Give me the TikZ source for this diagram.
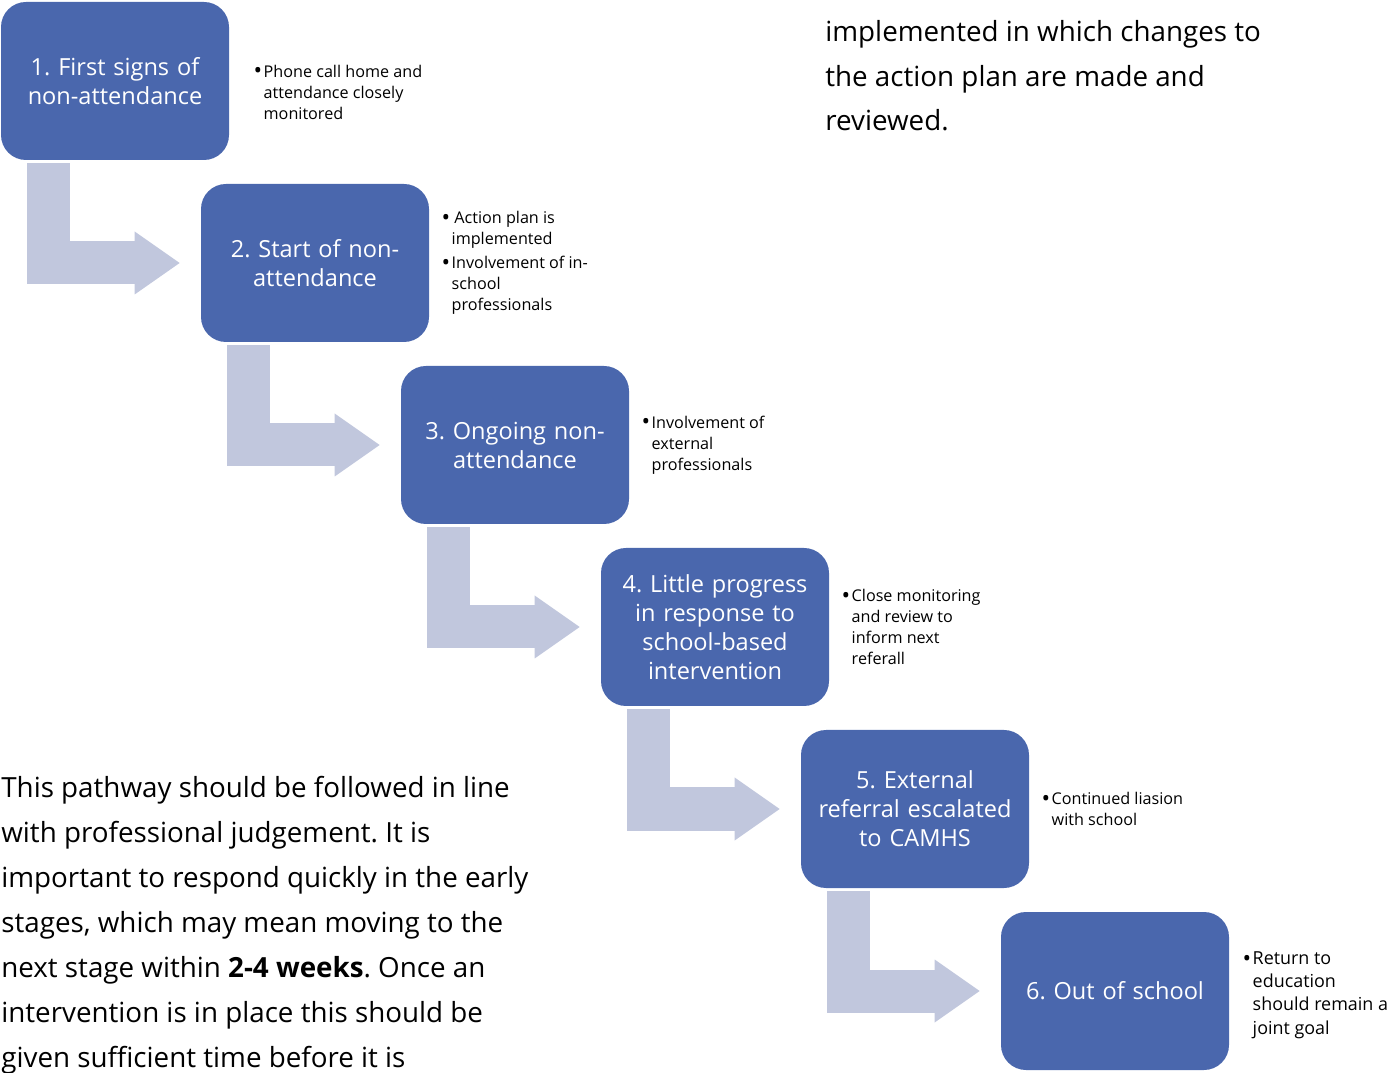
\documentclass[tikz,border=0pt]{standalone}
\usepackage{fontspec}
\setmainfont{Open Sans}
\frenchspacing
\usetikzlibrary{arrows.meta, positioning}
\definecolor{stageBlue}{RGB}{74,103,173}
\definecolor{stepGray}{RGB}{193,199,221}
\newcommand{\bul}{\makebox[0.2cm][l]{\raisebox{-0.2ex}{\fontsize{13}{13}\selectfont\textbullet}}}
\newcommand{\ind}{\hspace*{0.2cm}}

\begin{document}
\begin{tikzpicture}[
    stage/.style={rounded corners=0.5cm, fill=stageBlue, minimum width=4.56cm, minimum height=3.16cm, text width=4.4cm, inner sep=0pt, font=\fontsize{13.4}{16.5}\selectfont, text=white, align=center},
    note/.style={inner sep=0pt, align=left, font=\fontsize{9.2}{11.95}\selectfont},
    stepArrow/.style={-{Triangle[length=0.9cm, width=1.26cm, line width=0pt]}, line width=0.86cm, color=stepGray},
    para/.style={anchor=base west, inner sep=0pt, align=left, font=\fontsize{15.8}{25.6}\selectfont}
]
\useasboundingbox (0,0) rectangle (27.88,-21.46);

\node[stage] (b1) at (2.30,-1.62)  {1. First signs of\\non-attendance};
\node[stage] (b2) at (6.30,-5.26)  {2. Start of non-\\attendance};
\node[stage] (b3) at (10.30,-8.90) {3. Ongoing non-\\attendance};
\node[stage] (b4) at (14.30,-12.54) {4. Little progress\\in response to\\school-based\\intervention};
\node[stage] (b5) at (18.30,-16.18) {5. External\\referral escalated\\to CAMHS};
\node[stage] (b6) at (22.30,-19.82) {6. Out of school};

\node[note, right=0.48cm of b1, yshift=-0.22cm] (n1) {\bul Phone call home and\\\ind attendance closely\\\ind monitored};
\node[note, right=0.24cm of b2] (n2) {\bul\,Action plan is\\\ind implemented\\[0.06cm]\bul Involvement of in-\\\ind school\\\ind professionals};
\node[note, right=0.24cm of b3] (n3) {\bul Involvement of\\\ind external\\\ind professionals};
\node[note, right=0.24cm of b4] (n4) {\bul Close monitoring\\\ind and review to\\\ind inform next\\\ind referall};
\node[note, right=0.24cm of b5] (n5) {\bul Continued liasion\\\ind with school};
\node[note, right=0.26cm of b6, yshift=-0.08cm, font=\fontsize{10.2}{13.3}\selectfont] (n6) {\bul Return to\\\ind education\\\ind should remain a\\\ind joint goal};

\draw[stepArrow] ([xshift=0.95cm, yshift=-0.06cm]b1.south west) |- ([xshift=-0.42cm]b2.west);
\draw[stepArrow] ([xshift=0.95cm, yshift=-0.06cm]b2.south west) |- ([xshift=-0.42cm]b3.west);
\draw[stepArrow] ([xshift=0.95cm, yshift=-0.06cm]b3.south west) |- ([xshift=-0.42cm]b4.west);
\draw[stepArrow] ([xshift=0.95cm, yshift=-0.06cm]b4.south west) |- ([xshift=-0.42cm]b5.west);
\draw[stepArrow] ([xshift=0.95cm, yshift=-0.06cm]b5.south west) |- ([xshift=-0.42cm]b6.west);

\node[para] (top) at (16.50,-2.62) {implemented in which changes to\\the action plan are made and\\reviewed.};
\node[para] (text) at (0.02,-21.34) {This pathway should be followed in line\\with professional judgement. It is\\important to respond quickly in the early\\stages, which may mean moving to the\\next stage within \textbf{2-4 weeks}. Once an\\intervention is in place this should be\\given sufficient time before it is};
\end{tikzpicture}
\end{document}
